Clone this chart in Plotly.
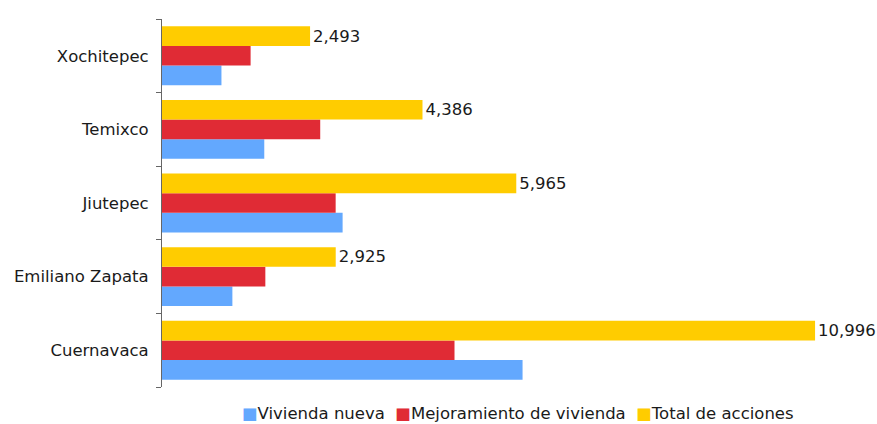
import plotly.graph_objects as go

municipios = ["Cuernavaca", "Emiliano Zapata", "Jiutepec", "Temixco", "Xochitepec"]
vivienda_nueva = [6071, 1185, 3041, 1722, 1001]
mejoramiento = [4925, 1740, 2924, 2664, 1492]
total_acciones = [10996, 2925, 5965, 4386, 2493]

series_names = ["Vivienda nueva", "Mejoramiento de vivienda", "Total de acciones"]
series_colors = ["#63A8FE", "#E02B35", "#FFCC00"]

FONT = "DejaVu Sans"
SIZE = 16.5
TEXT = "#1a1a1a"

fig = go.Figure()
for name, color, values in zip(series_names, series_colors,
                               [vivienda_nueva, mejoramiento, total_acciones]):
    fig.add_trace(go.Bar(y=municipios, x=values, orientation="h",
                         name=name, marker_color=color, marker_line_width=0))

# value labels on the totals only
fig.data[2].update(texttemplate="%{x:,}", textposition="outside",
                   textfont=dict(family=FONT, size=SIZE, color=TEXT),
                   cliponaxis=False)

# compact legend row: coloured squares followed by series names
legend_html = "  ".join(
    f"<span style='color:{c}'>■</span>{n}" for n, c in zip(series_names, series_colors)
)
fig.add_annotation(text=legend_html, xref="paper", yref="paper",
                   x=0.521, y=-0.073, xanchor="center", yanchor="middle",
                   showarrow=False, font=dict(family=FONT, size=SIZE, color=TEXT))

fig.update_layout(
    width=877, height=424,
    margin=dict(l=162, r=32, t=19, b=37, autoexpand=False),
    paper_bgcolor="white", plot_bgcolor="white",
    barmode="group", bargap=0.2, bargroupgap=0,
    font=dict(family=FONT, size=SIZE, color=TEXT),
    showlegend=False,
    xaxis=dict(range=[0, 11500], showgrid=False, zeroline=False,
               showticklabels=False, showline=False, ticks=""),
    yaxis=dict(type="category", showline=True, linecolor="#666666", linewidth=1,
               ticks="outside", ticklen=5, tickcolor="#666666",
               tickson="boundaries", showgrid=False, ticklabelstandoff=9,
               tickfont=dict(family=FONT, size=SIZE, color=TEXT)),
)

fig.write_html("out.html")
